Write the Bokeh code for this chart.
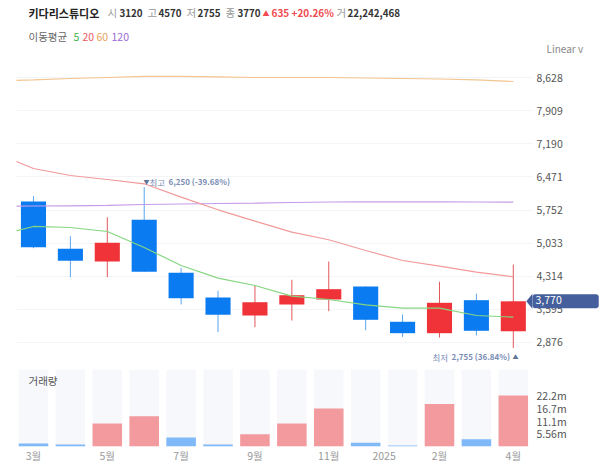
from bokeh.plotting import figure
from bokeh.layouts import column
from bokeh.models import Range1d, FixedTicker, Label, PolyAnnotation
from bokeh.embed import file_html
from bokeh.resources import INLINE

idx = list(range(14))
opens = [5938, 4911, 4635, 5541, 4390, 3853, 3462, 3701, 3810, 4092, 3326, 3078, 3795, 3120]
closes = [4946, 4650, 5041, 4411, 3838, 3478, 3751, 3903, 4034, 3369, 3078, 3738, 3130, 3770]
highs = [6054, 5185, 5597, 6250, 4498, 3999, 4114, 4238, 4635, 4092, 3484, 4194, 3934, 4570]
lows = [4924, 4294, 4294, 4411, 3701, 3100, 3208, 3354, 3556, 3143, 2998, 2985, 3028, 2755]
volumes = [1.3, 0.87, 10.0, 13.2, 3.9, 0.87, 5.4, 10.0, 16.6, 1.6, 0.44, 18.5, 3.2, 22.24]
volume_up = [False, False, True, True, False, False, True, True, True, False, False, True, False, True]

ma_x = list(range(-1, 14))
ma5 = [5191, 5396, 5374, 5287, 4939, 4548, 4273, 4114, 3882, 3810, 3695, 3621, 3621, 3462, 3426]
ma20 = [6981, 6655, 6503, 6416, 6323, 6032, 5758, 5511, 5272, 5107, 4874, 4657, 4533, 4403, 4303]
ma60 = [8556, 8578, 8610, 8632, 8654, 8654, 8643, 8632, 8632, 8632, 8621, 8610, 8599, 8578, 8545]
ma120 = [5830, 5841, 5845, 5852, 5873, 5884, 5895, 5902, 5917, 5928, 5932, 5932, 5932, 5928, 5923]

price_ticks = [8628, 7909, 7190, 6471, 5752, 5033, 4314, 3595, 2876]
vol_ticks = [22.24, 16.7, 11.1, 5.56]
vol_labels = ["22.2m", "16.7m", "11.1m", "5.56m"]
month_pos = [0, 2, 4, 6, 8, 9.5, 11, 13]
month_labels = ["3월", "5월", "7월", "9월", "11월", "2025", "2월", "4월"]

FONT = "Noto Sans CJK KR"
BLUE, RED = "#0A7BF0", "#EF3338"
xr = Range1d(-0.46, 13.52)

p = figure(width=600, height=364, frame_width=516, frame_height=364, x_range=xr,
           y_range=Range1d(2398, 10304), y_axis_location="right",
           output_backend="svg", toolbar_location=None,
           min_border_left=16, min_border_right=68, min_border_top=0, min_border_bottom=0)
p.outline_line_color = None
p.xaxis.visible = False
p.xgrid.visible = False
p.ygrid.grid_line_color = "#F3F4F6"
p.ygrid.ticker = FixedTicker(ticks=price_ticks)
p.yaxis.ticker = FixedTicker(ticks=price_ticks)
p.yaxis.major_label_overrides = {t: f"{t:,}" for t in price_ticks}
p.yaxis.axis_line_color = None
p.yaxis.major_tick_line_color = None
p.yaxis.minor_tick_line_color = None
p.yaxis.major_tick_out = 0
p.yaxis.major_label_standoff = 4
p.yaxis.major_label_text_font = FONT
p.yaxis.major_label_text_font_size = "10.5px"
p.yaxis.major_label_text_color = "#555555"

colors = [RED if c > o else BLUE for o, c in zip(opens, closes)]
wick_colors = ["#E2585C" if c > o else "#5AA5EE" for o, c in zip(opens, closes)]
p.segment(idx, lows, idx, highs, color=wick_colors, line_width=1)
p.vbar(idx, width=0.68, bottom=[min(o, c) for o, c in zip(opens, closes)],
       top=[max(o, c) for o, c in zip(opens, closes)], fill_color=colors, line_color=None)

p.line(ma_x, ma60, color="#F3C58F", line_width=1.2)
p.line(ma_x, ma120, color="#C79BE8", line_width=1.2)
p.line(ma_x, ma20, color="#F29A9A", line_width=1.2)
p.line(ma_x, ma5, color="#86D680", line_width=1.2)

# annotations in the right panel are not clipped to the frame, but they stack:
# each one starts after the previous one, so each has its own left edge
LINEAR_LEFT = 565
TAG_LEFT = 602


def text(fig, px, py, s, color="#555555", size=10, bold=False, place="center"):
    # px, py are page pixels; labels measure from the lower left of their panel
    left = 16 if place == "center" else LINEAR_LEFT
    fig.add_layout(Label(x=px - left, y=364 - py, x_units="screen", y_units="screen", text=s,
                         text_color=color, text_font=FONT, text_font_size=f"{size}px",
                         text_font_style="bold" if bold else "normal",
                         text_baseline="middle"), place)


DARK, GREY, UP = "#333333", "#999999", "#EF4B50"
text(p, 28, 12, "키다리스튜디오", "#222222", 11, True)
for px, s in [(107, "시"), (147, "고"), (186, "저"), (225, "종"), (336, "거")]:
    text(p, px, 12, s, GREY, 10.5)
for px, s in [(119, "3120"), (158, "4570"), (197, "2755"), (237, "3770"), (347, "22,242,468")]:
    text(p, px, 12, s, DARK, 9.8, True)
text(p, 262, 12, "▲", UP, 7)
text(p, 271, 12, "635", UP, 10, True)
text(p, 291, 12, "+20.26%", UP, 10, True)

text(p, 28, 36, "이동평균", "#666666", 10.5)
text(p, 73, 36, "5", "#39B54A", 10.5)
text(p, 82, 36, "20", "#EF5A5F", 10.5)
text(p, 96, 36, "60", "#E8A25C", 10.5)
text(p, 111, 36, "120", "#9B6AD6", 10.5)
text(p, 546, 48, "Linear v", "#888888", 10, place="right")

LOW_HIGH = "#7A8DB5"
text(p, 143, 181, "▼", "#5F7398", 6)
text(p, 149, 181, "최고", LOW_HIGH, 8.5)
text(p, 168, 181, "6,250 (-39.68%)", LOW_HIGH, 8, True)
text(p, 432, 356, "최저", LOW_HIGH, 8.5)
text(p, 451, 356, "2,755 (36.84%)", LOW_HIGH, 8, True)
text(p, 512, 356, "▲", "#5F7398", 6)

tag_half = 163
last = closes[-1]
p.add_layout(PolyAnnotation(xs=[510, 516, 516],
                            ys=[last, last + tag_half, last - tag_half],
                            xs_units="screen", ys_units="data",
                            fill_color="#445F9B", fill_alpha=1, line_color="#445F9B"))
p.add_layout(Label(x=532 - TAG_LEFT, y=last, x_units="screen", y_units="data",
                   text=f"{last:,}", text_color="#FFFFFF", text_font=FONT, text_font_size="10.5px",
                   text_baseline="middle", background_fill_color="#445F9B",
                   padding=(3, 37, 2, 4), border_radius=3), "right")

v = figure(width=600, height=99, frame_width=516, frame_height=77, x_range=xr,
           y_range=Range1d(0, 33.6), y_axis_location="right",
           output_backend="svg", toolbar_location=None,
           min_border_left=16, min_border_right=68, min_border_top=5, min_border_bottom=17)
v.outline_line_color = None
v.grid.visible = False
v.xaxis.ticker = FixedTicker(ticks=month_pos)
v.xaxis.major_label_overrides = dict(zip(month_pos, month_labels))
v.yaxis.ticker = FixedTicker(ticks=vol_ticks)
v.yaxis.major_label_overrides = dict(zip(vol_ticks, vol_labels))
for ax in (v.xaxis, v.yaxis):
    ax.axis_line_color = None
    ax.major_tick_line_color = None
    ax.minor_tick_line_color = None
    ax.major_tick_out = 0
    ax.major_label_text_font = FONT
    ax.major_label_text_font_size = "10.5px"
v.xaxis.major_label_text_color = "#999999"
v.yaxis.major_label_text_color = "#555555"
v.xaxis.major_label_standoff = 1
v.yaxis.major_label_standoff = 4

v.vbar(idx, width=0.8, bottom=0, top=33.6, fill_color="#F6F8FC", line_color=None)
v.vbar(idx, width=0.8, bottom=0, top=volumes,
       fill_color=["#F39A9E" if up else "#80B9F8" for up in volume_up], line_color=None)
v.add_layout(Label(x=12, y=66, x_units="screen", y_units="screen", text="거래량",
                   text_color="#555555", text_font=FONT, text_font_size="10.5px",
                   text_baseline="middle"))

out = column(p, v, spacing=0)
open("out.html", "w").write(file_html(out, INLINE))
